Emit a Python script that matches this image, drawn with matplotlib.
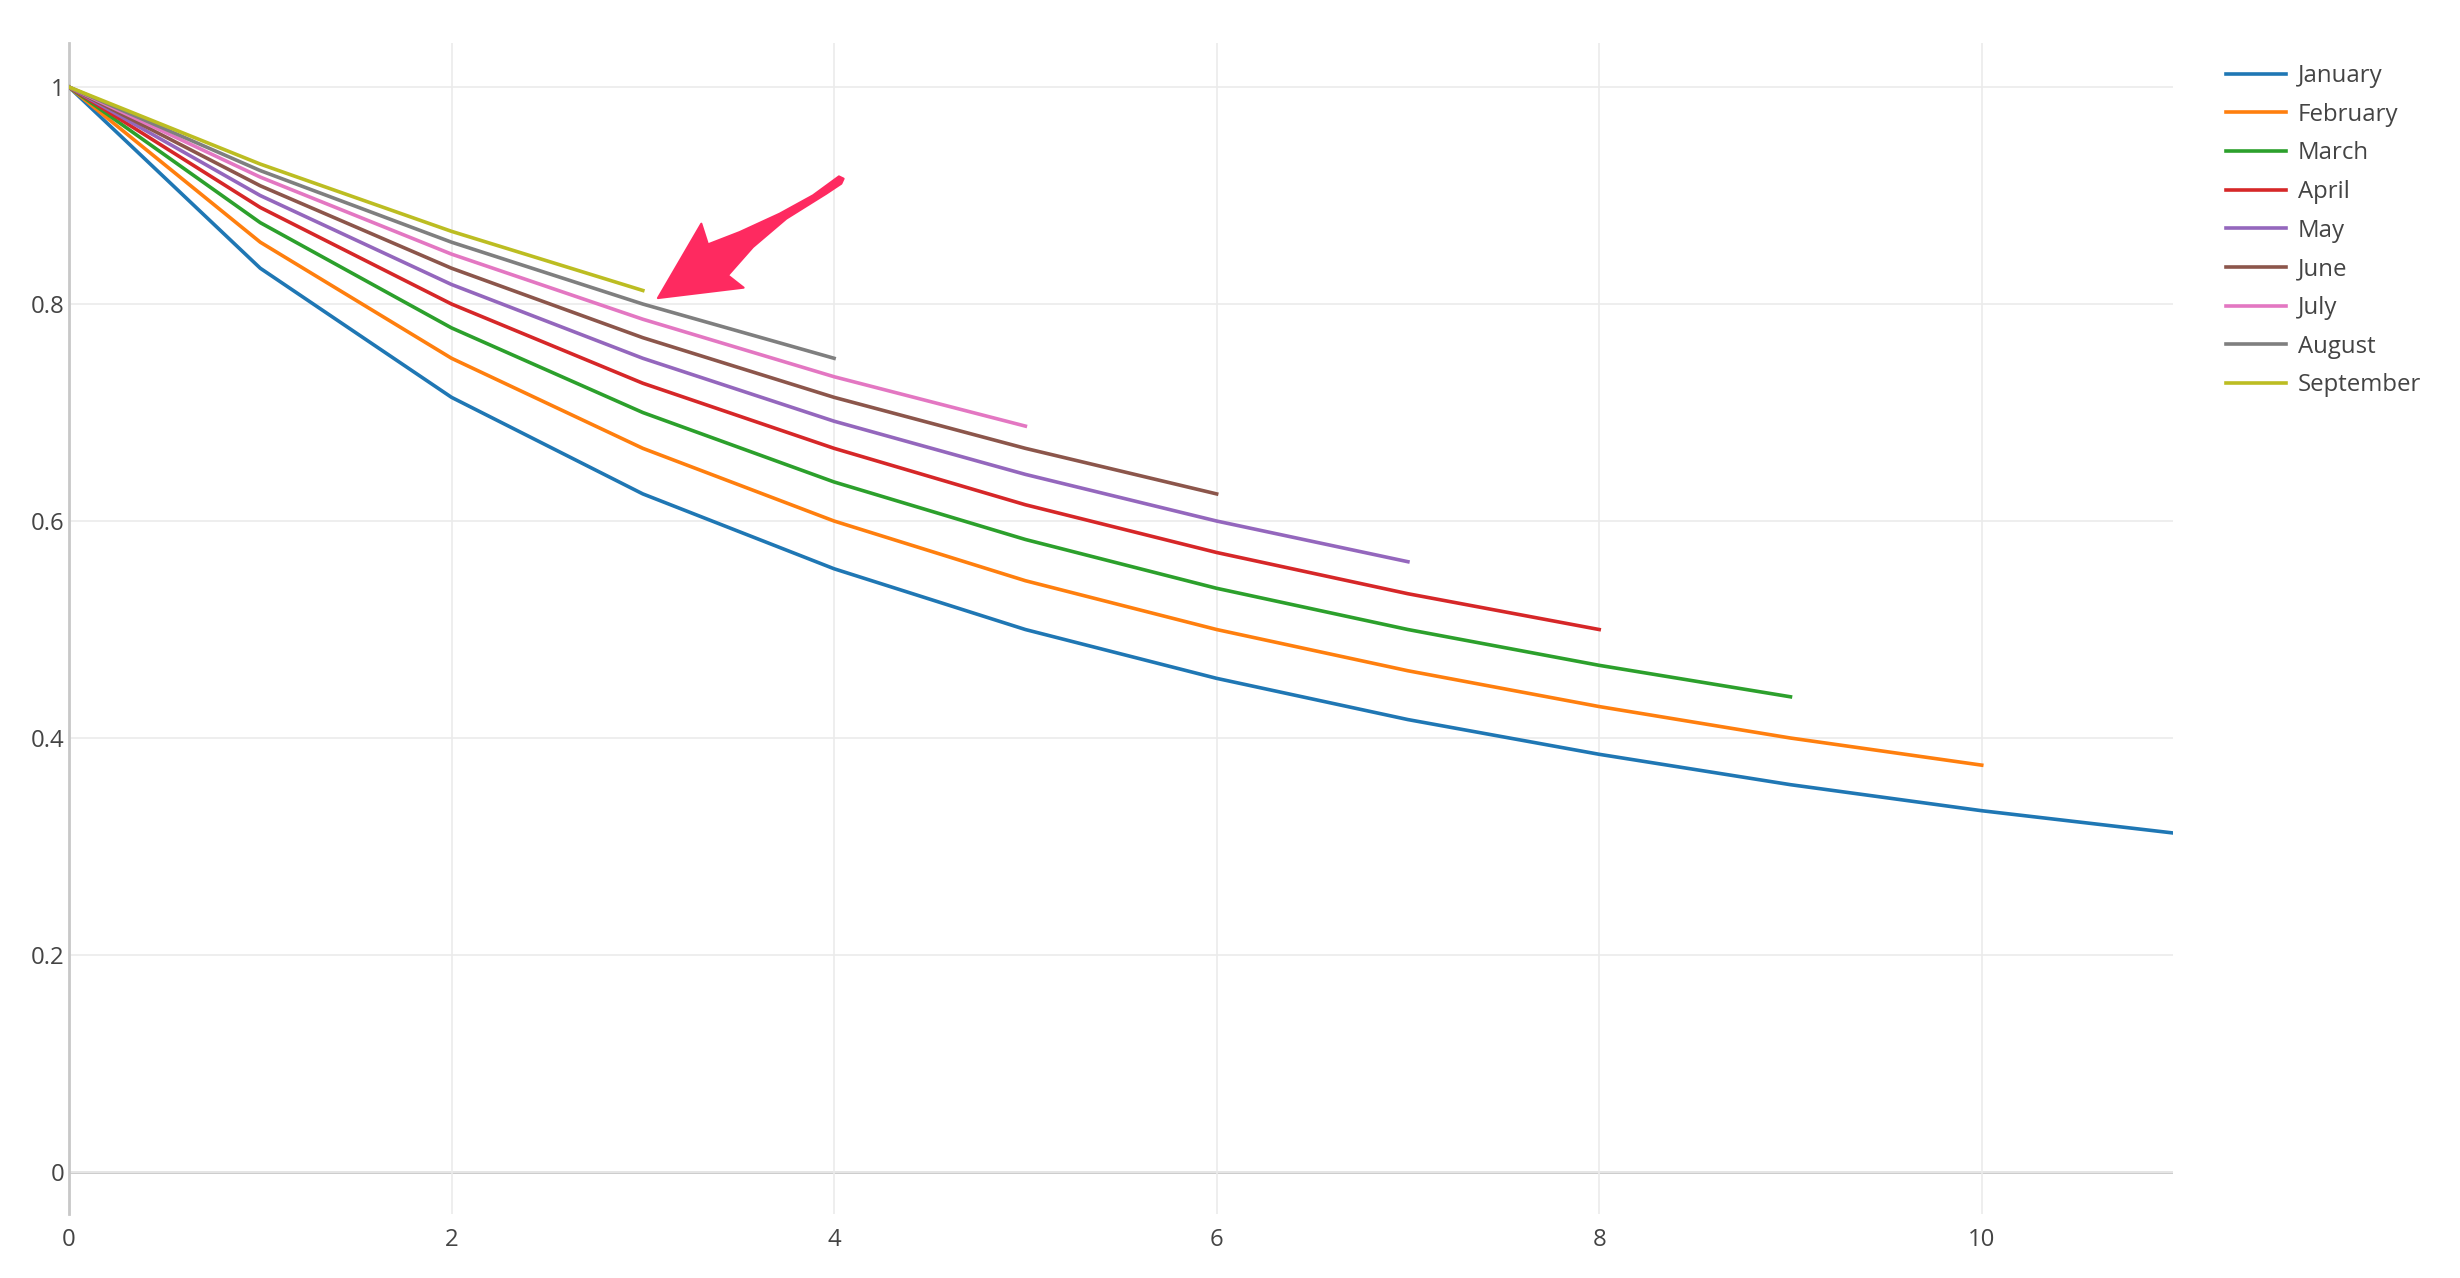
import matplotlib
matplotlib.use("Agg")
from matplotlib import pyplot as plt
from matplotlib.patches import Polygon
from matplotlib import transforms

plt.rcParams['font.family'] = ['Open Sans', 'DejaVu Sans']

# share of the cohort still active, by month of first use
months = ["January", "February", "March", "April", "May", "June", "July", "August", "September"]
january = [1, 0.833, 0.714, 0.625, 0.556, 0.5, 0.455, 0.417, 0.385, 0.357, 0.333, 0.3125]
february = [1, 0.857, 0.75, 0.667, 0.6, 0.545, 0.5, 0.462, 0.429, 0.4, 0.375]
march = [1, 0.875, 0.778, 0.7, 0.636, 0.583, 0.538, 0.5, 0.467, 0.438]
april = [1, 0.889, 0.8, 0.727, 0.667, 0.615, 0.571, 0.533, 0.5]
may = [1, 0.9, 0.818, 0.75, 0.692, 0.643, 0.6, 0.5625]
june = [1, 0.909, 0.833, 0.769, 0.714, 0.667, 0.625]
july = [1, 0.917, 0.846, 0.786, 0.733, 0.6875]
august = [1, 0.923, 0.857, 0.8, 0.75]
september = [1, 0.929, 0.867, 0.8125]
series = [january, february, march, april, may, june, july, august, september]

colors = ["#1f77b4", "#ff7f0e", "#2ca02c", "#d62728", "#9467bd",
          "#8c564b", "#e377c2", "#7f7f7f", "#bcbd22"]

# hand-drawn pointer: tip position in data units, outline in pixel offsets from the tip
arrow_tip = (3.079, 0.8055)
arrow_shape = [(0, 0), (43.4, -74.4), (50, -53.7), (81.7, -66), (121.7, -84.4),
               (155, -102.7), (181, -121.7), (185.7, -119.4), (183.4, -114.4),
               (168.4, -104.4), (128.4, -79.4), (95, -51), (70, -22.7), (85.7, -10.4)]

fig = plt.figure(figsize=(24.6, 12.78), dpi=100)
ax = fig.add_axes([69 / 2460, 64 / 1278, (2173 - 69) / 2460, (1214 - 43) / 1278])

for name, vals, c in zip(months, series, colors):
    ax.plot(range(len(vals)), vals, color=c, lw=2.6, label=name,
            solid_joinstyle='round', zorder=3)

ax.set_xlim(0, 11)
ax.set_ylim(-0.0387, 1.0406)
ax.set_xticks([0, 2, 4, 6, 8, 10])
ax.set_yticks([0, 0.2, 0.4, 0.6, 0.8, 1])
ax.set_yticklabels(["0", "0.2", "0.4", "0.6", "0.8", "1"])
ax.grid(True, color="#ebebeb", lw=1.2, zorder=0)
ax.axhline(0, color="#c8c8c8", lw=2, zorder=1)
for s in ["top", "right", "bottom"]:
    ax.spines[s].set_visible(False)
ax.spines["left"].set_color("#c8c8c8")
ax.spines["left"].set_linewidth(2)
ax.tick_params(length=0, labelsize=17.3, labelcolor="#444444")
ax.tick_params(axis="x", pad=10)
ax.tick_params(axis="y", pad=3)

# pointer arrow
tx, ty = ax.transData.transform(arrow_tip)
tr = transforms.Affine2D().scale(1, -1).translate(tx, ty)
ax.add_patch(Polygon(arrow_shape, closed=True, transform=tr, facecolor="#fe2a60",
                     edgecolor="#fe2a60", lw=1.5, joinstyle="round", zorder=5,
                     clip_on=False))

ax.legend(loc="upper left", bbox_to_anchor=(2226 / 2460, (1278 - 64) / 1278),
          bbox_transform=fig.transFigure, frameon=False, fontsize=17.3,
          labelcolor="#444444", handlelength=2.5, handletextpad=0.5,
          labelspacing=0.61, borderpad=0, borderaxespad=0)

fig.savefig("out.png")
